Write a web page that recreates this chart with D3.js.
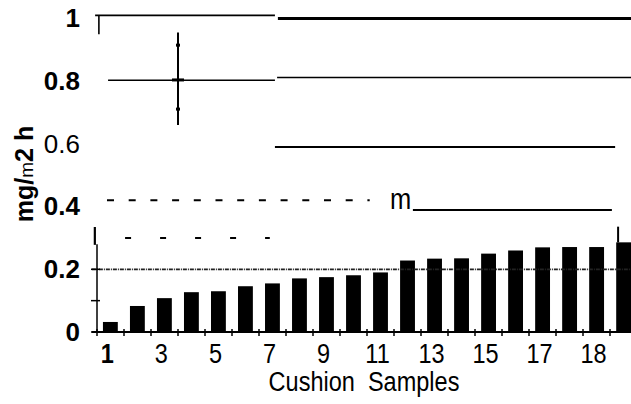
<!DOCTYPE html>
<html>
<head>
<meta charset="utf-8">
<script src="https://cdn.jsdelivr.net/npm/d3@7"></script>
<style>
  body { margin: 0; background: #fff; }
  svg { display: block; font-family: "Liberation Sans", Arial, sans-serif; }
</style>
</head>
<body>
<div class="chart"></div>
<script>
// sample numbers and measured emission (mg/m2 h)
const samples = d3.range(1, 21);
const values = [0.032, 0.083, 0.108, 0.127, 0.130, 0.146, 0.155, 0.171, 0.175, 0.181,
                0.190, 0.228, 0.234, 0.235, 0.250, 0.260, 0.270, 0.271, 0.271, 0.286];
const lastError = 0.336;

// tick labels as printed under the bars
const xTickSamples = [1, 3, 5, 7, 9, 11, 13, 15, 17, 19];
const xTickLabels = ["1", "3", "5", "7", "9", "11", "13", "15", "17", "18"];
const yTicks = [0, 0.2, 0.4, 0.6, 0.8, 1];

// leftover reference lines of the scan (value, start / end in sample units)
const refValues = [1.01, 1.0, 0.803, 0.812, 0.59, 0.389];
const refFrom   = [-0.07, 6.7, 0.41, 6.67, 6.59, 11.7];
const refTo     = [6.59, 20, 6.59, 20, 19.19, 19.07];
const refWidth  = [1.8, 3, 1.6, 1.6, 2, 2];

const dashValues = [0.42, 0.30];
const dashFrom   = [0.37, 1.04];
const dashTo     = [10.1, 6.4];

const errCross = { at: 3.0, lo: 0.66, hi: 0.955, marks: [0.915, 0.804, 0.711] };

const width = 631, height = 404;
const narrow = 0.84; // the scan uses a condensed face

const svg = d3.select('.chart').append('svg')
    .attr('width', width)
    .attr('height', height);

/* Scales */
const yScale = d3.scaleLinear().domain([0, 1]).range([332, 18.5]);
const xc = d3.scaleLinear().domain([0, 20]).range([97, 637]);
const xBand = d3.scaleBand().domain(samples).range([97, 637]).paddingInner(0.45).paddingOuter(0.22);

/* Bars */
svg.append('g').selectAll('rect')
    .data(values).enter()
    .append('rect')
    .attr('x', (d, i) => xBand(samples[i]))
    .attr('y', d => yScale(d))
    .attr('width', xBand.bandwidth())
    .attr('height', d => yScale(0) - yScale(d))
    .attr('fill', '#000');

// error on last bar
svg.append('line')
    .attr('x1', xc(19.3)).attr('x2', xc(19.3))
    .attr('y1', yScale(values[19])).attr('y2', yScale(lastError))
    .attr('stroke', '#000').attr('stroke-width', 2);

/* 0.2 dotted line */
svg.append('line')
    .attr('x1', xc(-0.19)).attr('x2', xc(20))
    .attr('y1', yScale(0.2)).attr('y2', yScale(0.2))
    .attr('stroke', '#222').attr('stroke-width', 1.8)
    .attr('stroke-dasharray', '4,1,1,1');

/* Reference lines */
svg.append('g').selectAll('line')
    .data(refValues).enter()
    .append('line')
    .attr('x1', (d, i) => xc(refFrom[i]))
    .attr('x2', (d, i) => xc(refTo[i]))
    .attr('y1', d => yScale(d))
    .attr('y2', d => yScale(d))
    .attr('stroke', '#000')
    .attr('stroke-width', (d, i) => refWidth[i]);

svg.append('g').selectAll('line')
    .data(dashValues).enter()
    .append('line')
    .attr('x1', (d, i) => xc(dashFrom[i]))
    .attr('x2', (d, i) => xc(dashTo[i]))
    .attr('y1', d => yScale(d))
    .attr('y2', d => yScale(d))
    .attr('stroke', '#000')
    .attr('stroke-width', 2)
    .attr('stroke-dasharray', (d, i) => i === 0 ? '7,14.7' : '6,29');

svg.append('text')
    .attr('transform', `translate(${xc(10.85)},${yScale(0.389) - 1}) scale(0.85,1)`)
    .attr('font-size', 30)
    .text('m');

// short verticals
svg.append('line')
    .attr('x1', xc(0.07)).attr('x2', xc(0.07))
    .attr('y1', yScale(1.01)).attr('y2', yScale(0.95))
    .attr('stroke', '#000').attr('stroke-width', 1.6);
svg.append('line')
    .attr('x1', xc(-0.08)).attr('x2', xc(-0.08))
    .attr('y1', yScale(0.335)).attr('y2', yScale(0.278))
    .attr('stroke', '#000').attr('stroke-width', 2.2);

/* Error cross near sample 3 */
svg.append('line')
    .attr('x1', xc(errCross.at)).attr('x2', xc(errCross.at))
    .attr('y1', yScale(errCross.hi)).attr('y2', yScale(errCross.lo))
    .attr('stroke', '#000').attr('stroke-width', 2);
svg.append('g').selectAll('line')
    .data(errCross.marks).enter()
    .append('line')
    .attr('x1', (d, i) => xc(errCross.at) - (i === 1 ? 6 : 2))
    .attr('x2', (d, i) => xc(errCross.at) + (i === 1 ? 6 : 2))
    .attr('y1', d => yScale(d)).attr('y2', d => yScale(d))
    .attr('stroke', '#000').attr('stroke-width', 3);

/* Axes */
svg.append('line')
    .attr('x1', xc(0)).attr('x2', xc(0))
    .attr('y1', yScale(0.28)).attr('y2', yScale(0))
    .attr('stroke', '#000').attr('stroke-width', 1.5);
svg.append('line')
    .attr('x1', 92).attr('x2', width)
    .attr('y1', yScale(0)).attr('y2', yScale(0))
    .attr('stroke', '#000').attr('stroke-width', 2);

// small ticks on axis lines
svg.append('g').selectAll('line')
    .data(d3.range(0, 21)).enter()
    .append('line')
    .attr('x1', d => xc(d)).attr('x2', d => xc(d))
    .attr('y1', yScale(0) - 3).attr('y2', yScale(0) + 4)
    .attr('stroke', '#000').attr('stroke-width', 1.5);
svg.append('g').selectAll('line')
    .data([0, 0.1, 0.2]).enter()
    .append('line')
    .attr('x1', xc(0) - 6).attr('x2', xc(0) + 3)
    .attr('y1', d => yScale(d)).attr('y2', d => yScale(d))
    .attr('stroke', '#000').attr('stroke-width', 1.5);

const yAxis = d3.axisLeft(yScale).tickValues(yTicks).tickSize(0).tickPadding(0)
    .tickFormat(d => d === 0 || d === 1 ? d3.format('d')(d) : d3.format('.1f')(d));
const yg = svg.append('g')
    .attr('transform', 'translate(80,0)')
    .call(yAxis);
yg.select('.domain').remove();
yg.selectAll('text')
    .attr('font-family', '"Liberation Sans", Arial, sans-serif')
    .attr('font-size', 26)
    .attr('font-weight', d => d === 0.6 ? 'normal' : 'bold')
    .attr('fill', '#000');

svg.append('g').selectAll('text')
    .data(xTickLabels).enter()
    .append('text')
    .attr('transform', (d, i) =>
        `translate(${xBand(xTickSamples[i]) + xBand.bandwidth() / 2 - 3},363) scale(${narrow},1)`)
    .attr('text-anchor', 'middle')
    .attr('font-size', 28)
    .attr('font-weight', (d, i) => i === 0 ? 'bold' : 'normal')
    .text(d => d);

svg.append('text')
    .attr('transform', `translate(364,391) scale(${narrow},1)`)
    .attr('text-anchor', 'middle')
    .attr('font-size', 28)
    .attr('xml:space', 'preserve')
    .text('Cushion  Samples');

const yl = svg.append('text')
    .attr('transform', 'translate(33,174) rotate(-90)')
    .attr('text-anchor', 'middle')
    .attr('font-size', 25)
    .attr('font-weight', 'bold');
yl.append('tspan').text('mg/');
yl.append('tspan').attr('font-weight', 'normal').attr('font-size', 19).text('m');
yl.append('tspan').text('2 h');
</script>
</body>
</html>
